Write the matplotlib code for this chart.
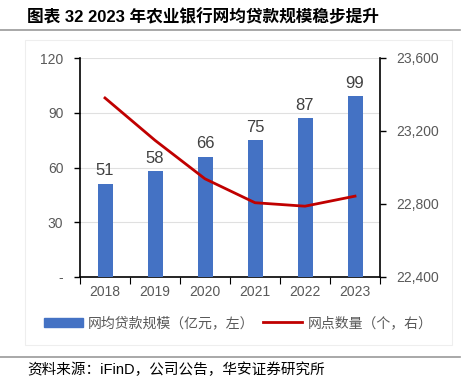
import matplotlib
matplotlib.use("Agg")
import matplotlib.pyplot as plt
from matplotlib.patches import Patch, Rectangle
from matplotlib.lines import Line2D
from matplotlib.ticker import FuncFormatter

plt.rcParams['font.family'] = ['Liberation Sans', 'Noto Sans CJK SC', 'DejaVu Sans']

years = ['2018', '2019', '2020', '2021', '2022', '2023']
loan_scale = [51, 58, 66, 75, 87, 99]
outlets = [23381, 23149, 22938, 22807, 22788, 22843]
title = '图表 32 2023 年农业银行网均贷款规模稳步提升'
bar_label = '网均贷款规模（亿元，左）'
line_label = '网点数量（个，右）'
source = '资料来源：iFinD，公司公告，华安证券研究所'

gray = '#595959'
fig = plt.figure(figsize=(4.68, 3.80), dpi=100)

# title and decoration lines
fig.text(27/468, 1-17/380, title, fontsize=12, fontweight='bold', va='center', ha='left', color='black')
fig.add_artist(Line2D([0, 460/468], [1-30/380, 1-30/380], color='#999999', lw=1.2))
fig.add_artist(Rectangle((25/468, 1-345/380), (452-25)/468, (345-40)/380, fill=False, ec='#eeeeee', lw=0.8))
fig.add_artist(Line2D([0, 460/468], [1-357/380, 1-357/380], color='#999999', lw=1.2))
fig.text(27/468, 1-370/380, source, fontsize=10.5, va='center', ha='left', color='black')

ax = fig.add_axes([80/468, 1-277/380, 300/468, (277-58)/380])
x = list(range(len(years)))
bars = ax.bar(x, loan_scale, width=0.3, color='#4472C4', zorder=3)
for xi, v in zip(x, loan_scale):
    ax.text(xi, v + 3, str(v), ha='center', va='bottom', fontsize=12, color='#404040')
ax.set_ylim(0, 120)
ax.set_yticks([0, 30, 60, 90, 120])
ax.yaxis.set_major_formatter(FuncFormatter(lambda v, p: '-' if v == 0 else f'{int(v)}'))
ax.set_xlim(-0.5, len(years) - 0.5)
ax.set_xticks(x)
ax.set_xticklabels(years)
ax.set_xticks([i - 0.5 for i in range(len(years) + 1)], minor=True)
ax.tick_params(axis='x', which='major', length=0, labelsize=10, labelcolor=gray, pad=6)
ax.tick_params(axis='x', which='minor', length=5, width=0.8, color='black', direction='out')
ax.tick_params(axis='y', length=4, width=1, color='black', labelsize=10, labelcolor=gray, direction='out', pad=8)
ax.grid(axis='y', color='#e0e0e0', lw=0.8, zorder=0)
ax.spines['top'].set_visible(False)
ax.spines['right'].set_visible(False)
ax.spines['left'].set_linewidth(1.2)
ax.spines['bottom'].set_linewidth(1.2)

ax2 = ax.twinx()
ax2.plot(x, outlets, color='#C00000', lw=2, zorder=4)
ax2.set_ylim(22400, 23600)
ax2.set_yticks([22400, 22800, 23200, 23600])
ax2.yaxis.set_major_formatter(FuncFormatter(lambda v, p: f'{int(v):,}'))
ax2.tick_params(axis='y', length=4, width=1, color='black', labelsize=10, labelcolor=gray, direction='out', pad=8)
for s in ['top', 'left', 'bottom']:
    ax2.spines[s].set_visible(False)
ax2.spines['right'].set_linewidth(1.2)

handles = [Patch(color='#4472C4'), Line2D([0], [0], color='#C00000', lw=2)]
fig.legend(handles, [bar_label, line_label], loc='center', bbox_to_anchor=(238/468, 1-323/380),
           ncol=2, frameon=False, fontsize=10, labelcolor=gray, handlelength=2.8, handleheight=0.6,
           columnspacing=0.6, handletextpad=0.4)

fig.savefig('out.png', dpi=100)
